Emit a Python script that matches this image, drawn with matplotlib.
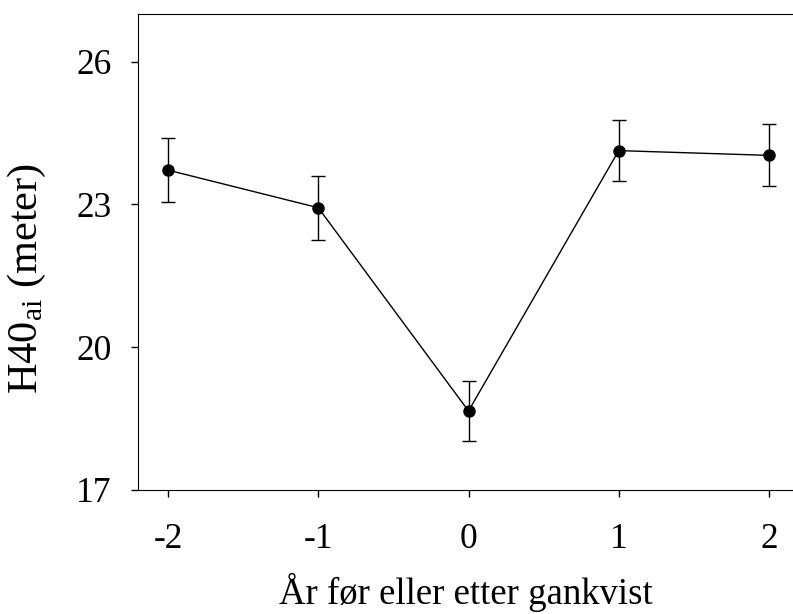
import matplotlib
matplotlib.use("Agg")
import matplotlib.pyplot as plt

# years relative to pruning, mean H40 and error
years = [-2, -1, 0, 1, 2]
h40 = [23.72, 22.93, 18.66, 24.13, 24.03]
err = [0.68, 0.67, 0.63, 0.64, 0.65]

plt.rcParams['font.family'] = ['Liberation Serif', 'DejaVu Serif']
plt.rcParams['mathtext.fontset'] = 'custom'
plt.rcParams['mathtext.rm'] = 'Liberation Serif'
plt.rcParams['mathtext.it'] = 'Liberation Serif'

fig = plt.figure(figsize=(7.93, 6.14), dpi=100)
ax = fig.add_axes([138/793, (614-490)/614, 1 - 138/793, (490-14)/614])

ax.errorbar(years, h40, yerr=err, color='black', lw=1, marker='o', ms=8,
            capsize=5, elinewidth=1, capthick=1)

ax.set_xlim(-2.2, 2.16)
ax.set_ylim(17, 27)
ax.set_xticks(years)
ax.set_xticklabels(['-2', '-1', '0', '1', '2'])
ax.set_yticks([17, 20, 23, 26])
ax.spines['right'].set_visible(False)
ax.tick_params(direction='out', length=5, width=1, labelsize=25.5)
ax.tick_params(axis='x', pad=19)
ax.tick_params(axis='y', pad=14)

ax.set_xlabel('År før eller etter gankvist', fontsize=26.5, labelpad=12)
ax.set_ylabel(r'H40$_{\mathrm{ai}}$ (meter)', fontsize=30.5)
ax.yaxis.set_label_coords(-0.137, 0.445)

fig.savefig('out.png', dpi=100)
